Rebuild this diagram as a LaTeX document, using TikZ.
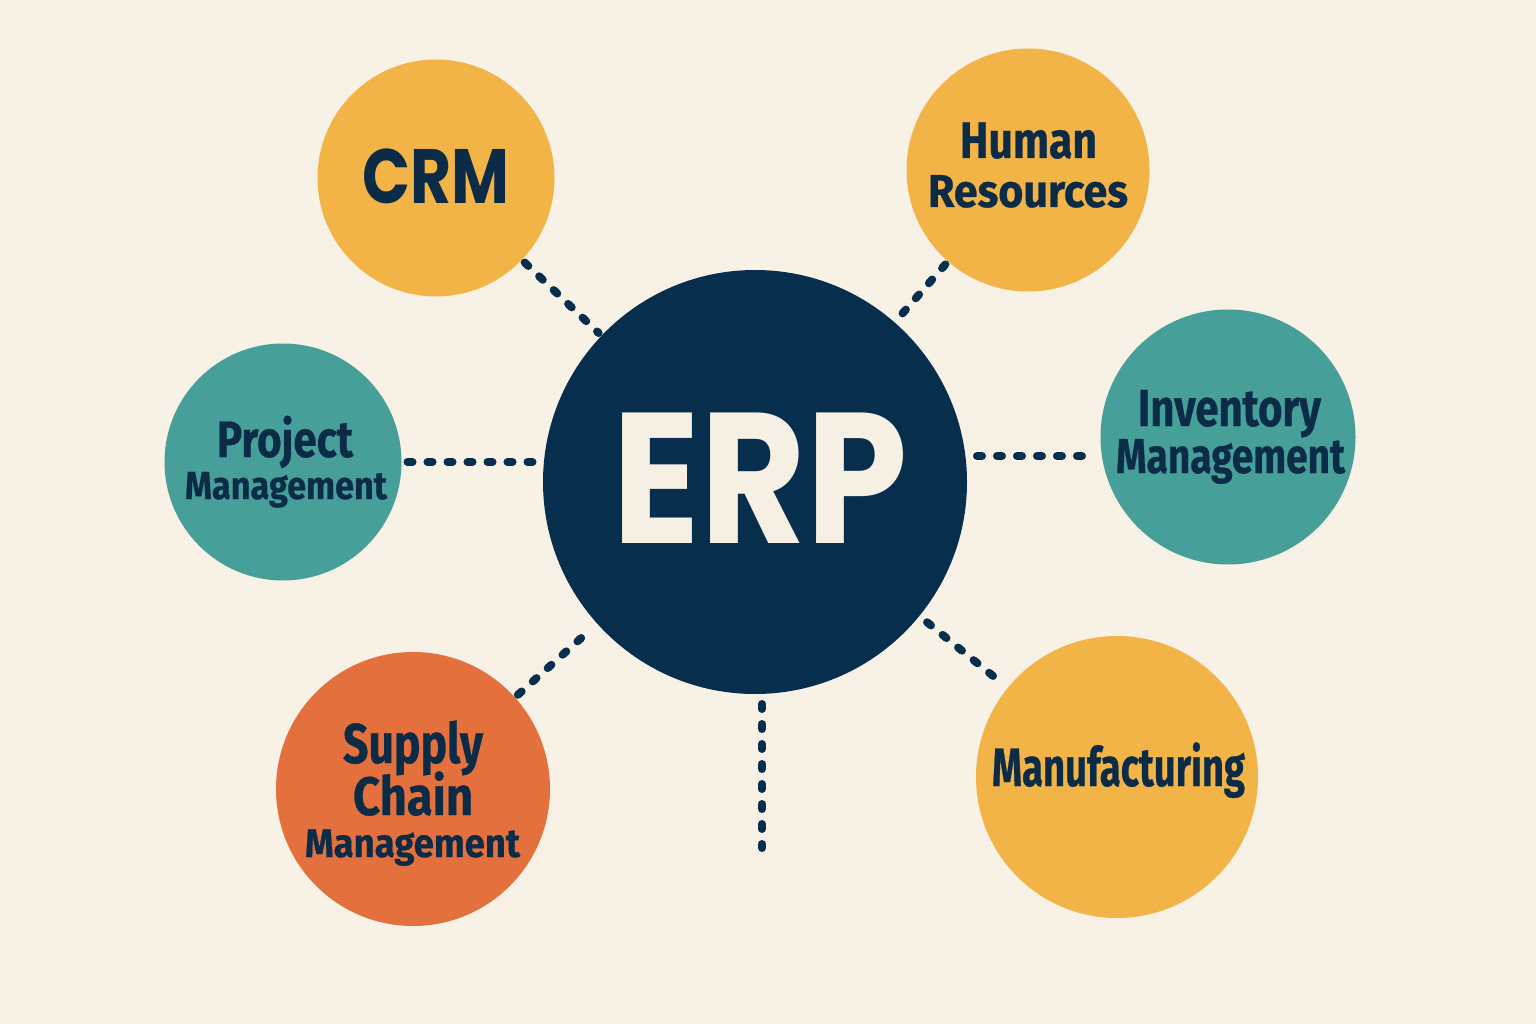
\documentclass[tikz,border=0pt]{standalone}
\usepackage{fontspec}
\usepackage{graphicx}
\newfontfamily\labfont[BoldFeatures={FakeBold=0.6}]{Fira Sans}
\newfontfamily\geofont{Poppins}
\definecolor{bg}{HTML}{F7F1E6}
\definecolor{sun}{HTML}{F3B447}
\definecolor{teal}{HTML}{479F99}
\definecolor{rust}{HTML}{E4703E}
\definecolor{navy}{HTML}{072E4C}
\definecolor{ink}{HTML}{0B2B47}
\definecolor{cream}{HTML}{F6F0E4}
\newcommand\fw[3]{\resizebox{#1pt}{\height}{\fontsize{#2}{#2}\selectfont #3}}
\begin{document}
\begin{tikzpicture}[x=1pt,y=-1pt,
  circ/.style={circle,draw=none,inner sep=0pt,outer sep=0pt},
  lbl/.style={anchor=base,inner sep=0pt,outer sep=0pt,text=ink,font=\labfont\bfseries},
  big/.style={anchor=base,inner sep=0pt,outer sep=0pt,font=\geofont\bfseries},
  link/.style={draw=navy,line width=8pt,line cap=round,dash pattern=on 5pt off 15pt}]
\useasboundingbox (0,0) rectangle (1536,1024);
\fill[bg] (0,0) rectangle (1536,1024);
% circles
\node[circ,fill=navy,minimum size=424pt] (erp) at (755,482) {};
\node[circ,fill=sun,minimum size=237pt] (crm) at (436,178) {};
\node[circ,fill=sun,minimum size=243pt] (hr) at (1028,170) {};
\node[circ,fill=teal,minimum size=237pt] (pm) at (283,462) {};
\node[circ,fill=teal,minimum size=255pt] (im) at (1228,437) {};
\node[circ,fill=rust,minimum size=274pt] (scm) at (413,789) {};
\node[circ,fill=sun,minimum size=282pt] (mfg) at (1117,777) {};
% connectors
\draw[link,shorten <=4pt,shorten >=4pt] (crm) -- (erp);
\draw[link,shorten <=4pt,shorten >=6pt] (hr) -- (erp);
\draw[link,shorten <=6pt,shorten >=9pt] (pm.east) -- (pm.east -| erp.west);
\draw[link,shorten <=10pt,shorten >=16pt] (erp.east |- 0,456) -- (im.west |- 0,456);
\draw[link,shorten <=4pt,shorten >=18pt] (scm) -- (erp);
\draw[link,shorten <=10pt,shorten >=4pt] (erp) -- (mfg);
\coordinate (bot) at (762,848);
\draw[link,shorten <=10pt] (erp.south -| bot) -- (bot);
% labels
\node[big,text=cream] (erp-t) at (760.5,543) {\fw{295}{186}{ERP}};
\node[big,text=ink] (crm-t) at (435.5,204) {\fw{147}{77}{CRM}};
\node[lbl] (hr-t1) at (1028.5,158) {\fw{137}{51}{Human}};
\node[lbl] (hr-t2) at (1028,207) {\fw{200}{46}{Resources}};
\node[lbl] (pm-t1) at (285,457) {\fw{136}{51}{Project}};
\node[lbl] (pm-t2) at (286,499) {\fw{202}{39}{Management}};
\node[lbl] (im-t1) at (1229.5,426) {\fw{183}{52}{Inventory}};
\node[lbl] (im-t2) at (1230.5,473) {\fw{229}{49}{Management}};
\node[lbl] (scm-t1) at (413,763) {\fw{140}{56}{Supply}};
\node[lbl] (scm-t2) at (413,815) {\fw{120}{54}{Chain}};
\node[lbl] (scm-t3) at (412.5,857) {\fw{215}{40}{Management}};
\node[lbl] (mfg-t) at (1118.5,786) {\fw{253}{54}{Manufacturing}};
\end{tikzpicture}
\end{document}
